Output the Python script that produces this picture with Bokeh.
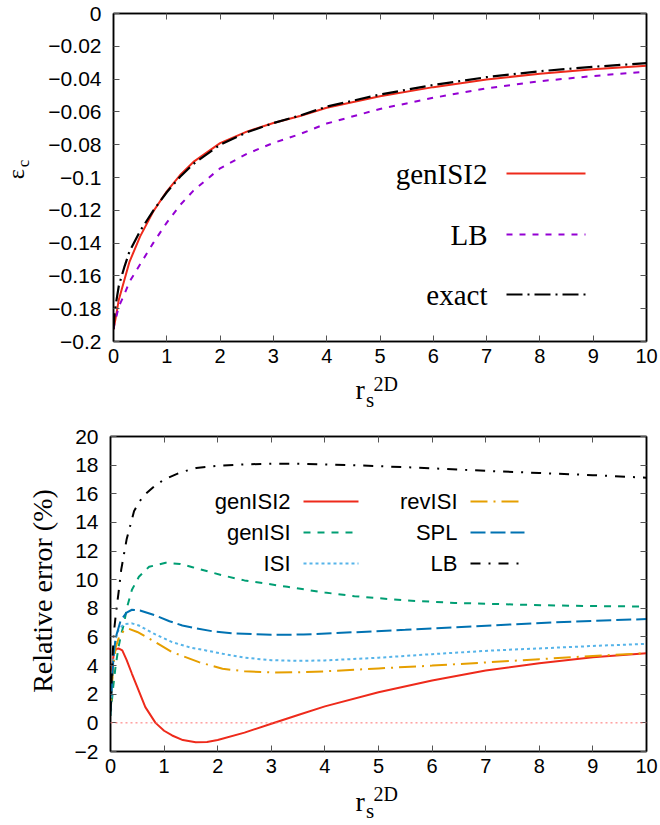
import math
from bokeh.plotting import figure
from bokeh.models import Range1d, FixedTicker, LinearAxis, CustomJSTickFormatter, Label, Span
from bokeh.layouts import column, row
from bokeh.embed import file_html
from bokeh.resources import INLINE

# ---------------- top panel: correlation energy ----------------
rs_top = [0, 0.02, 0.05, 0.1, 0.2, 0.3, 0.5, 0.75, 1, 1.25, 1.5, 2, 2.5, 3, 3.5, 4, 5, 6, 7, 8, 9, 10]
ec_exact = [-0.1925, -0.183, -0.176, -0.166, -0.155, -0.145, -0.1326, -0.120, -0.109, -0.0995, -0.0917,
            -0.0800, -0.0725, -0.0668, -0.0622, -0.0568, -0.0494, -0.0436, -0.0388, -0.0352, -0.0325, -0.0303]
ec_genisi2 = [-0.1925, -0.1894, -0.1839, -0.1745, -0.1629, -0.1514, -0.1359, -0.1205, -0.1084, -0.0985,
              -0.0905, -0.0790, -0.0720, -0.0668, -0.0625, -0.0575, -0.0505, -0.0449, -0.0402, -0.0367,
              -0.0340, -0.0318]
ec_lb = [-0.1925, -0.1885, -0.1853, -0.1786, -0.1716, -0.1636, -0.1529, -0.1397, -0.1275, -0.1168, -0.1080,
         -0.0944, -0.0856, -0.0789, -0.0735, -0.0671, -0.0582, -0.0514, -0.0456, -0.0413, -0.0381, -0.0355]
top_legend = ["genISI2", "LB", "exact"]
top_xticks = [0, 1, 2, 3, 4, 5, 6, 7, 8, 9, 10]
top_yticks = [-0.2, -0.18, -0.16, -0.14, -0.12, -0.1, -0.08, -0.06, -0.04, -0.02, 0]

# ---------------- bottom panel: relative error (%) ----------------
rs_gi2 = [0, 0.03, 0.06, 0.1, 0.15, 0.22, 0.3, 0.4, 0.5, 0.65, 0.84, 1.0, 1.15, 1.35, 1.59, 1.8, 2.0, 2.5,
          3, 3.5, 4, 5, 6, 7, 8, 9, 10]
err_gi2 = [0.5, 3.9, 4.8, 5.15, 5.2, 5.06, 4.4, 3.43, 2.5, 1.1, 0.0, -0.55, -0.88, -1.2, -1.35, -1.33, -1.2,
           -0.68, -0.06, 0.55, 1.15, 2.14, 2.96, 3.66, 4.17, 4.59, 4.87]
rs_gi = [0, 0.05, 0.093, 0.15, 0.2, 0.25, 0.31, 0.4, 0.53, 0.72, 1.03, 1.3, 1.53, 2.09, 2.5, 3.3, 4.0, 4.55,
         5.5, 6.42, 7.5, 8.29, 9.0, 10]
err_gi = [0.5, 2.5, 3.9, 5.3, 6.2, 6.9, 8.1, 9.3, 10.2, 10.9, 11.18, 11.1, 10.87, 10.3, 9.95, 9.5, 9.1, 8.85,
          8.55, 8.38, 8.27, 8.2, 8.16, 8.12]
rs_isi = [0, 0.03, 0.06, 0.1, 0.15, 0.25, 0.4, 0.53, 0.8, 1.15, 1.5, 1.78, 2.09, 2.5, 3.0, 3.5, 4.0, 5.0,
          6.0, 7.1, 8.0, 9.0, 10]
err_isi = [0.5, 3.0, 4.8, 5.9, 6.5, 6.9, 6.95, 6.8, 6.25, 5.64, 5.25, 5.06, 4.83, 4.55, 4.38, 4.33, 4.36,
           4.55, 4.8, 5.05, 5.2, 5.37, 5.52]
rs_rev = [0, 0.03, 0.06, 0.1, 0.16, 0.25, 0.34, 0.5, 0.84, 1.15, 1.65, 2.09, 2.5, 3.0, 3.5, 4.0, 5.0, 6.0,
          7.1, 8.0, 9.0, 10]
err_rev = [0.5, 2.8, 4.3, 5.3, 6.0, 6.45, 6.57, 6.35, 5.64, 4.94, 4.24, 3.78, 3.6, 3.52, 3.53, 3.6, 3.8, 4.0,
           4.24, 4.45, 4.67, 4.87]
rs_spl = [0, 0.03, 0.06, 0.1, 0.19, 0.3, 0.4, 0.55, 0.84, 1.1, 1.34, 1.6, 1.9, 2.3, 3.0, 3.6, 4.55, 5.5,
          6.42, 7.5, 8.29, 9.2, 10]
err_spl = [0.5, 3.0, 4.8, 6.0, 7.15, 7.7, 7.9, 7.85, 7.5, 7.1, 6.8, 6.6, 6.4, 6.25, 6.15, 6.17, 6.33, 6.5,
           6.68, 6.88, 7.03, 7.15, 7.25]
rs_lb = [0, 0.03, 0.06, 0.1, 0.15, 0.2, 0.3, 0.44, 0.6, 0.81, 1.0, 1.31, 1.6, 2.0, 2.5, 3.0, 3.6, 4.5, 5.2,
         6.0, 7.0, 8.0, 9.0, 10]
err_lb = [0.8, 3.9, 6.2, 7.6, 9.1, 10.7, 12.8, 14.8, 15.8, 16.5, 17.0, 17.5, 17.8, 17.95, 18.05, 18.1, 18.09,
          18.0, 17.9, 17.78, 17.6, 17.45, 17.3, 17.12]
bot_legend = ["genISI2", "genISI", "ISI", "revISI", "SPL", "LB"]
bot_xticks = [0, 1, 2, 3, 4, 5, 6, 7, 8, 9, 10]
bot_yticks = [-2, 0, 2, 4, 6, 8, 10, 12, 14, 16, 18, 20]

SERIF = "Liberation Serif"
SANS = "Liberation Sans"
RED = "#ee2a1b"
MID = 0.34  # em distance between the alphabetic baseline and the "middle" anchor

TOP_FMT = """
if (Math.abs(tick) < 1e-9) { return "0"; }
var s = parseFloat(tick.toFixed(2)).toString();
return s.replace("-", "\\u2212");
"""
BOT_FMT = """
if (tick < 0) { return "\\u2212" + Math.abs(tick); }
return String(tick);
"""
BLANK_FMT = "return '';"


def style(p, xticks, yticks, yfmt, xstand, ystand):
    p.outline_line_color = "black"
    p.outline_line_width = 1.5
    p.xgrid.grid_line_color = None
    p.ygrid.grid_line_color = None
    p.background_fill_color = "white"
    p.border_fill_color = "white"
    for ax, ticks in ((p.xaxis[0], xticks), (p.yaxis[0], yticks)):
        ax.ticker = FixedTicker(ticks=ticks)
        ax.major_tick_in = 6
        ax.major_tick_out = 0
        ax.major_tick_line_color = "#555555"
        ax.minor_tick_line_color = None
        ax.axis_line_color = "black"
        ax.axis_line_width = 1.5
        ax.major_label_text_font = SANS
        ax.major_label_text_color = "black"
    p.xaxis[0].major_label_text_font_size = "20px"
    p.yaxis[0].major_label_text_font_size = "21px"
    p.xaxis[0].major_label_standoff = xstand
    p.yaxis[0].major_label_standoff = ystand
    p.yaxis[0].formatter = CustomJSTickFormatter(code=yfmt)
    # mirrored tick marks on the top and right edges, without labels
    top = LinearAxis(ticker=FixedTicker(ticks=xticks), major_tick_in=6, major_tick_out=0,
                     major_tick_line_color="#555555", minor_tick_line_color=None,
                     formatter=CustomJSTickFormatter(code=BLANK_FMT), major_label_standoff=0,
                     axis_line_color="black", axis_line_width=1.5)
    right = LinearAxis(ticker=FixedTicker(ticks=yticks), major_tick_in=6, major_tick_out=0,
                       major_tick_line_color="#555555", minor_tick_line_color=None,
                       formatter=CustomJSTickFormatter(code=BLANK_FMT), major_label_standoff=0,
                       axis_line_color="black", axis_line_width=1.5)
    p.add_layout(top, "above")
    p.add_layout(right, "right")


def slabel(p, fl, fb, px, py, text, size, font=SERIF, align="left"):
    """Legend text inside a frame, screen units relative to the frame (fl = frame left, fb = frame bottom)."""
    p.add_layout(Label(x=px - fl, y=fb - py, x_units="screen", y_units="screen", text=text,
                       text_align=align, text_baseline="middle", text_font=font,
                       text_font_size=f"{size}px", text_color="black"))


def strip(x0, x1, y0, y1):
    """An empty, axis-less panel whose data coordinates are page pixels; it holds the axis titles."""
    s = figure(width=x1 - x0, height=y1 - y0, output_backend="svg", toolbar_location=None,
               x_range=Range1d(x0, x1), y_range=Range1d(y1, y0),
               x_axis_location=None, y_axis_location=None, min_border=0)
    s.outline_line_color = None
    s.grid.grid_line_color = None
    s.background_fill_color = "white"
    s.border_fill_color = "white"
    return s


def hlabel(s, x, base, text, size, font=SERIF, align="left"):
    """Horizontal title piece; base = wanted alphabetic baseline (page px)."""
    s.add_layout(Label(x=x, y=base - MID * size, text=text, text_align=align, text_baseline="middle",
                       text_font=font, text_font_size=f"{size}px", text_color="black"))


def vlabel(s, base, y, text, size, font=SERIF, align="left"):
    """Rotated (bottom-to-top) title piece; base = wanted baseline x (page px)."""
    s.add_layout(Label(x=base - MID * size, y=y, text=text, angle=math.pi / 2, text_align=align,
                       text_baseline="middle", text_font=font, text_font_size=f"{size}px",
                       text_color="black"))


# ---------------- top figure ----------------
p1 = figure(width=620, height=371, output_backend="svg", toolbar_location=None,
            x_range=Range1d(0, 10), y_range=Range1d(-0.2, 0),
            min_border_left=73, min_border_right=14, min_border_top=13, min_border_bottom=30)
style(p1, top_xticks, top_yticks, TOP_FMT, 7, 12)


def tx(px):
    return (px - 113) / 533 * 10


def ty(py):
    return -(py - 13) / 328 * 0.2


top_styles = [(RED, "solid", 2), ("#9400d3", "6 7", 2), ("black", "16 5 2 5", 2.2)]
top_series = [ec_genisi2, ec_lb, ec_exact]
for ys, (c, d, w) in zip(top_series, top_styles):
    p1.line(rs_top, ys, line_color=c, line_dash=d, line_width=w)

top_rows = [173, 234, 294]
for name, (c, d, w), ry in zip(top_legend, top_styles, top_rows):
    slabel(p1, 113, 341, 487, ry, name, 29, align="right")
    p1.segment(x0=[tx(506)], y0=[ty(ry)], x1=[tx(585)], y1=[ty(ry)], line_color=c, line_dash=d, line_width=w)

eps_strip = strip(0, 40, 0, 371)
vlabel(eps_strip, 23.2, 187.5, "ε", 24)
vlabel(eps_strip, 29.0, 174.0, "c", 17)

x1_strip = strip(0, 660, 371, 412)
hlabel(x1_strip, 355, 399, "r", 28)
hlabel(x1_strip, 365.5, 406.5, "s", 21)
hlabel(x1_strip, 373, 390, "2D", 20)

# ---------------- bottom figure ----------------
p2 = figure(width=598, height=369, output_backend="svg", toolbar_location=None,
            x_range=Range1d(0, 10), y_range=Range1d(-2, 20),
            min_border_left=48, min_border_right=14, min_border_top=24, min_border_bottom=30)
style(p2, bot_xticks, bot_yticks, BOT_FMT, 7, 12)


def bx(px):
    return (px - 110) / 536 * 10


def by(py):
    return 20 - (py - 436) / 315 * 22


p2.add_layout(Span(location=0, dimension="width", line_color="#ff7070", line_dash="2 3", line_width=1))

bot_styles = [(RED, "solid", 2), ("#009e73", "7 7", 2), ("#56b4e9", "3 3", 2),
              ("#e69f00", "17 6 2 6", 2), ("#0072b2", "15 5", 2), ("black", "10 8 2 8", 2)]
bot_series = [(rs_gi2, err_gi2), (rs_gi, err_gi), (rs_isi, err_isi), (rs_rev, err_rev),
              (rs_spl, err_spl), (rs_lb, err_lb)]
for (xs, ys), (c, d, w) in zip(bot_series, bot_styles):
    p2.line(xs, ys, line_color=c, line_dash=d, line_width=w)

bot_rows = [501, 532, 563]
for i, (name, (c, d, w)) in enumerate(zip(bot_legend, bot_styles)):
    col, rw = divmod(i, 3)
    ry = bot_rows[rw]
    tx_r, l0, l1 = [(290, 303, 358), (457, 470, 524)][col]
    slabel(p2, 110, 751, tx_r, ry, name, 22, font=SANS, align="right")
    p2.segment(x0=[bx(l0)], y0=[by(ry)], x1=[bx(l1)], y1=[by(ry)], line_color=c, line_dash=d, line_width=w)

rel_strip = strip(0, 62, 412, 781)
vlabel(rel_strip, 52, 593, "Relative error (%)", 28, align="center")

x2_strip = strip(0, 660, 781, 825)
hlabel(x2_strip, 355, 810.5, "r", 28)
hlabel(x2_strip, 365.5, 818, "s", 21)
hlabel(x2_strip, 373, 800, "2D", 20)

layout = column(row(eps_strip, p1, spacing=0), x1_strip,
                row(rel_strip, p2, spacing=0), x2_strip, spacing=0)
open("out.html", "w").write(file_html(layout, INLINE))
